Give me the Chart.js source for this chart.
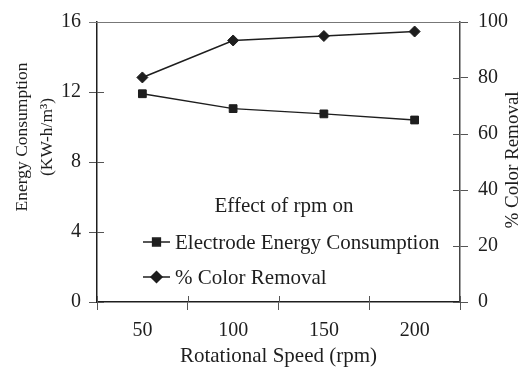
<!DOCTYPE html>
<html>
<head>
<meta charset="utf-8">
<script src="https://cdn.jsdelivr.net/npm/chart.js@4.4.0/dist/chart.umd.min.js"></script>
<style>
html, body { margin: 0; padding: 0; background: #fff; }
</style>
</head>
<body>
<canvas id="grafico" width="525" height="369"></canvas>
<script>
// datos
const rpm = ["50", "100", "150", "200"];
const energia = [11.9, 11.05, 10.75, 10.4];      // KW-h/m3
const remocion = [80.2, 93.4, 95.0, 96.6];       // % remocion de color
const rangoEnergia = [0, 16];
const rangoRemocion = [0, 100];
const tituloIzq = ['Energy Consumption', '(KW-h/m\u00B3)'];
const tituloDer = '% Color Removal';

const serif = "'Liberation Serif', 'Times New Roman', serif";
const negro = '#1e1e1e';

// ticks que cruzan el eje, borde superior, titulos verticales y leyenda interna
const extras = {
    id: 'extras',
    afterDraw(chart) {
        const c = chart.ctx;
        const a = chart.chartArea;
        const sx = chart.scales.x, sy = chart.scales.y, sy1 = chart.scales.y1;
        c.save();
        c.strokeStyle = '#555';
        c.lineWidth = 1;
        // ticks hacia adentro
        c.beginPath();
        sy.ticks.forEach((t, i) => {
            const y = Math.round(sy.getPixelForTick(i)) + 0.5;
            c.moveTo(a.left, y); c.lineTo(a.left + 7, y);
        });
        sy1.ticks.forEach((t, i) => {
            const y = Math.round(sy1.getPixelForTick(i)) + 0.5;
            c.moveTo(a.right, y); c.lineTo(a.right - 7, y);
        });
        for (let i = 0; i <= rpm.length; i++) {
            const x = Math.round(sx.left + i * (sx.width / rpm.length)) + 0.5;
            c.moveTo(x, a.bottom); c.lineTo(x, a.bottom - 6);
        }
        c.stroke();
        // borde superior
        c.strokeStyle = '#777';
        c.beginPath();
        c.moveTo(a.left - 8, a.top + 0.5); c.lineTo(a.right, a.top + 0.5);
        c.stroke();

        c.fillStyle = negro;
        c.textAlign = 'center';
        c.textBaseline = 'middle';
        // titulo eje izquierdo (dos lineas)
        c.font = '17.5px ' + serif;
        c.save();
        c.translate(22, 137);
        c.rotate(-Math.PI / 2);
        c.fillText(tituloIzq[0], 0, 0);
        c.restore();
        c.save();
        c.translate(47, 137);
        c.rotate(-Math.PI / 2);
        c.fillText(tituloIzq[1], 0, 0);
        c.restore();

        // titulo eje derecho (rotado hacia arriba)
        c.font = '19px ' + serif;
        c.save();
        c.translate(513, 160);
        c.rotate(-Math.PI / 2);
        c.fillText(tituloDer, 0, 0);
        c.restore();

        // leyenda
        c.font = '21px ' + serif;
        c.fillText('Effect of rpm on', 284, 206);
        c.textAlign = 'left';
        const filas = [242, 277];
        chart.data.datasets.forEach((ds, i) => {
            const y = filas[i];
            c.strokeStyle = negro;
            c.lineWidth = 1.5;
            c.beginPath();
            c.moveTo(143, y); c.lineTo(170, y);
            c.stroke();
            c.fillStyle = negro;
            Chart.helpers.drawPoint(c, { pointStyle: ds.pointStyle, radius: ds.pointRadius, rotation: 0, borderWidth: 1 }, 156.5, y);
            c.fillText(ds.label, 175, y + 1);
        });
        c.restore();
    }
};

const grafico = new Chart(document.getElementById('grafico').getContext('2d'), {
    type: 'line',
    data: {
        labels: rpm,
        datasets: [{
            label: 'Electrode Energy Consumption',
            data: energia,
            yAxisID: 'y',
            borderColor: negro,
            backgroundColor: negro,
            borderWidth: 1.5,
            pointStyle: 'rect',
            pointRadius: 5.5,
            pointBorderWidth: 1
        }, {
            label: '% Color Removal',
            data: remocion,
            yAxisID: 'y1',
            borderColor: negro,
            backgroundColor: negro,
            borderWidth: 1.5,
            pointStyle: 'rectRot',
            pointRadius: 5.5,
            pointBorderWidth: 1
        }]
    },
    options: {
        responsive: false,
        animation: false,
        layout: { padding: { top: 20, left: 0, right: 0, bottom: 0 } },
        plugins: {
            legend: { display: false },
            tooltip: { enabled: false }
        },
        scales: {
            x: {
                offset: true,
                grid: { offset: true, drawOnChartArea: false, tickLength: 8, color: '#555' },
                border: { color: negro, width: 1.5 },
                ticks: { color: negro, font: { family: serif, size: 20 }, padding: 9 },
                title: {
                    display: true,
                    text: 'Rotational Speed (rpm)',
                    color: negro,
                    font: { family: serif, size: 21 },
                    padding: { top: 0, bottom: 0 }
                },
                afterFit: s => { s.height = 67; }
            },
            y: {
                position: 'left',
                min: rangoEnergia[0],
                max: rangoEnergia[1],
                ticks: { stepSize: 4, color: negro, font: { family: serif, size: 20 }, padding: 8 },
                grid: { drawOnChartArea: false, tickLength: 8, color: '#555' },
                border: { color: negro, width: 1.5 },
                afterFit: s => { s.width = 97; }
            },
            y1: {
                position: 'right',
                min: rangoRemocion[0],
                max: rangoRemocion[1],
                ticks: { stepSize: 20, color: negro, font: { family: serif, size: 20 }, padding: 10 },
                grid: { drawOnChartArea: false, tickLength: 8, color: '#555' },
                border: { color: '#444', width: 1.5 },
                afterFit: s => { s.width = 65; }
            }
        }
    },
    plugins: [extras]
});
</script>
</body>
</html>
